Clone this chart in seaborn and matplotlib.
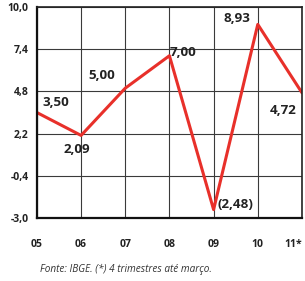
import matplotlib
matplotlib.use("Agg")
import matplotlib.pyplot as plt
import pandas as pd
import seaborn as sns

# chart data
years = ["05", "06", "07", "08", "09", "10", "11*"]
growth = [3.50, 2.09, 5.00, 7.00, -2.48, 8.93, 4.72]
point_labels = ["3,50", "2,09", "5,00", "7,00", "(2,48)", "8,93", "4,72"]
y_ticks = [-3.0, -0.4, 2.2, 4.8, 7.4, 10.0]
y_tick_labels = ["-3,0", "-0,4", "2,2", "4,8", "7,4", "10,0"]

sns.set_style("white")
plt.rcParams["font.family"] = ["Open Sans", "DejaVu Sans"]

df = pd.DataFrame({"pos": range(len(years)), "value": growth})

fig = plt.figure(figsize=(3.05, 2.81), dpi=100)
ax = fig.add_axes([0.121, 0.224, 0.869, 0.751])

sns.lineplot(data=df, x="pos", y="value", ax=ax, color="#e8302a", linewidth=2.2)

ax.set_xlim(0, len(years) - 1)
ax.set_ylim(-3, 10)
ax.set_xticks(range(len(years)))
ax.set_xticklabels(years)
ax.set_yticks(y_ticks)
ax.set_yticklabels(y_tick_labels)
ax.set_xlabel("")
ax.set_ylabel("")

ax.grid(True, color="#3a3a3a", linewidth=0.8)
ax.set_axisbelow(True)
ax.tick_params(axis="both", length=0, labelsize=7.5, colors="#222222")
ax.tick_params(axis="x", pad=15)
ax.tick_params(axis="y", pad=6)
for lbl in ax.get_xticklabels() + ax.get_yticklabels():
    lbl.set_fontweight("bold")
ax.get_xticklabels()[-1].set_horizontalalignment("right")

for side in ["left", "bottom"]:
    ax.spines[side].set_color("#111111")
    ax.spines[side].set_linewidth(1.6)
for side in ["top", "right"]:
    ax.spines[side].set_color("#222222")
    ax.spines[side].set_linewidth(1.2)

# label offsets in points (dx, dy, ha)
offsets = [(4, 7, "left"), (-3, -10, "center"), (-17, 9, "center"), (0, 2, "left"),
           (3, 4, "left"), (-15, 4, "center"), (-4, -13, "right")]
for i, (val, txt) in enumerate(zip(growth, point_labels)):
    dx, dy, ha = offsets[i]
    ax.annotate(txt, (i, val), xytext=(dx, dy), textcoords="offset points",
                ha=ha, va="center", fontsize=9.6, fontweight="bold", color="#222222")

fig.text(0.13, 0.04, "Fonte: IBGE. (*) 4 trimestres até março.", fontsize=7.2,
         style="italic", color="#333333", ha="left", va="center")

fig.savefig("out.png", dpi=100)
